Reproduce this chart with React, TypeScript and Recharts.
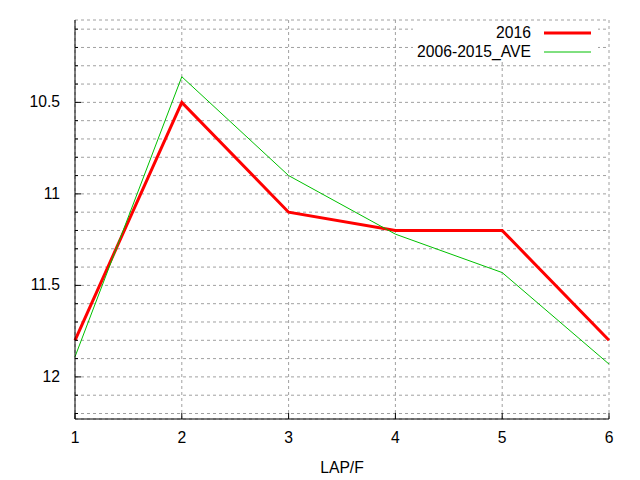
import { LineChart, Line, XAxis, YAxis, CartesianGrid } from "recharts";

const laps = [1, 2, 3, 4, 5, 6];
const values2016 = [11.8, 10.5, 11.1, 11.2, 11.2, 11.8];
const valuesAve = [11.89, 10.36, 10.9, 11.22, 11.43, 11.93];
const xTicks = [1, 2, 3, 4, 5, 6];
const yTicks = [
  10.1, 10.2, 10.3, 10.4, 10.5, 10.6, 10.7, 10.8, 10.9, 11, 11.1,
  11.2, 11.3, 11.4, 11.5, 11.6, 11.7, 11.8, 11.9, 12, 12.1, 12.2,
];
const yLabels = [10.5, 11, 11.5, 12];

const series = [
  { key: "s2016", name: "2016", color: "#ff0000", width: 3 },
  { key: "ave", name: "2006-2015_AVE", color: "#00c000", width: 1 },
];

const data = laps.map((lap, i) => ({ lap, s2016: values2016[i], ave: valuesAve[i] }));

const FONT = "'Liberation Sans', Arial, sans-serif";
const FS = 15.7;
const isMajor = (v: number) => yLabels.some(l => Math.abs(l - v) < 1e-6);

function BottomTick({ x, y, payload }: any) {
  return (
    <g>
      <line x1={x} y1={y} x2={x} y2={y - 6} stroke="#000" />
      <text x={x} y={y + 24} textAnchor="middle" fontSize={FS} fontFamily={FONT} fill="#000">
        {payload.value}
      </text>
    </g>
  );
}

function TopTick({ x, y }: any) {
  return <line x1={x} y1={y} x2={x} y2={y + 6} stroke="#000" />;
}

function LeftTick({ x, y, payload }: any) {
  const major = isMajor(payload.value);
  return (
    <g>
      <line x1={x} y1={y} x2={x + (major ? 6 : 3)} y2={y} stroke="#000" />
      {major && (
        <text x={x - 15} y={y + 5} textAnchor="end" fontSize={FS} fontFamily={FONT} fill="#000">
          {String(payload.value)}
        </text>
      )}
    </g>
  );
}

function RightTick({ x, y, payload }: any) {
  const major = isMajor(payload.value);
  return <line x1={x} y1={y} x2={x - (major ? 6 : 3)} y2={y} stroke="#000" />;
}

export default function App() {
  return (
    <div style={{ position: "absolute", left: 0, top: 0, width: 640, height: 480, background: "#fff" }}>
      <LineChart width={640} height={480} data={data} margin={{ top: 20, right: 31, bottom: 0, left: 0 }}>
        <CartesianGrid stroke="#a0a0a0" strokeDasharray="3 3" ticks={yTicks} />
        <XAxis
          dataKey="lap"
          type="number"
          domain={[1, 6]}
          ticks={xTicks}
          height={61}
          tickSize={0}
          tickMargin={0}
          tickLine={false}
          axisLine={{ stroke: "#000" }}
          tick={<BottomTick />}
          interval={0}
          label={{ value: "LAP/F", position: "insideBottom", offset: 7, fontSize: FS, fontFamily: FONT, fill: "#000" }}
        />
        <XAxis
          xAxisId="top"
          orientation="top"
          type="number"
          domain={[1, 6]}
          ticks={xTicks}
          height={0}
          tickSize={0}
          tickMargin={0}
          tickLine={false}
          axisLine={{ stroke: "#000" }}
          tick={<TopTick />}
          interval={0}
        />
        <YAxis
          type="number"
          reversed
          domain={[10.05, 12.23]}
          ticks={yTicks}
          width={75}
          tickSize={0}
          tickMargin={0}
          tickLine={false}
          axisLine={{ stroke: "#000" }}
          tick={<LeftTick />}
          interval={0}
          allowDataOverflow
        />
        <YAxis
          yAxisId="right"
          orientation="right"
          type="number"
          reversed
          domain={[10.05, 12.23]}
          ticks={yTicks}
          width={0}
          tickSize={0}
          tickMargin={0}
          tickLine={false}
          axisLine={{ stroke: "#000" }}
          tick={<RightTick />}
          interval={0}
          allowDataOverflow
        />
        {series.map(s => (
          <Line
            key={s.key}
            dataKey={s.key}
            name={s.name}
            type="linear"
            stroke={s.color}
            strokeWidth={s.width}
            dot={false}
            activeDot={false}
            isAnimationActive={false}
          />
        ))}
      </LineChart>
      {/* key box, gnuplot style (top right, white background) */}
      <svg width={640} height={480} style={{ position: "absolute", left: 0, top: 0, pointerEvents: "none" }}>
        <rect x={413} y={21} width={185} height={41} fill="#fff" />
        {series.map((s, i) => (
          <g key={s.key}>
            <text x={531} y={38 + i * 19} textAnchor="end" fontSize={FS} fontFamily={FONT} fill="#000">
              {s.name}
            </text>
            <line x1={544} x2={591} y1={33 + i * 19} y2={33 + i * 19} stroke={s.color} strokeWidth={s.width} />
          </g>
        ))}
      </svg>
    </div>
  );
}
